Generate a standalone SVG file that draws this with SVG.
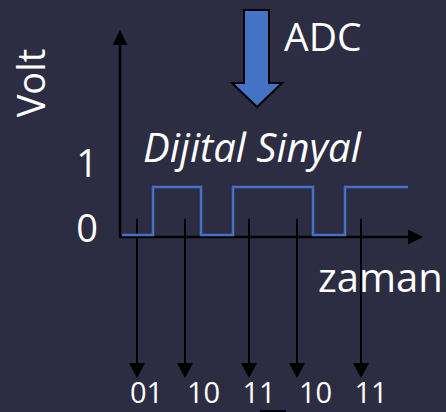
<svg xmlns="http://www.w3.org/2000/svg" width="446" height="412" viewBox="0 0 446 412">
<defs>
<style>
.t{font-family:"Open Sans","Noto Sans",sans-serif;fill:#ffffff;}
.ax{stroke:#000;stroke-width:2.5;fill:none;}
.tk{stroke:#000;stroke-width:2;fill:none;}
.sig{stroke:#4472c4;stroke-width:2.5;fill:none;}
</style>
<marker id="ah" viewBox="0 0 16 15" refX="0" refY="7.5" markerWidth="16" markerHeight="15" markerUnits="userSpaceOnUse" orient="auto">
<path d="M0,0 L15,7.5 L0,15 Z" fill="#000"/>
</marker>
<marker id="ahs" viewBox="0 0 15 16" refX="0" refY="8" markerWidth="15" markerHeight="16" markerUnits="userSpaceOnUse" orient="auto">
<path d="M0,0 L15,8 L0,16 Z" fill="#000"/>
</marker>
</defs>
<rect width="446" height="412" fill="#2c2d42"/>
<g id="axes">
<path class="ax" d="M120,237 L120,45" marker-end="url(#ah)"/>
<path class="ax" d="M119,237 L408,237" marker-end="url(#ah)"/>
</g>
<g id="connectors">
<path class="tk" d="M137,219 L137,363" marker-end="url(#ahs)"/>
<path class="tk" d="M185,219 L185,363" marker-end="url(#ahs)"/>
<path class="tk" d="M249,219 L249,363" marker-end="url(#ahs)"/>
<path class="tk" d="M297,219 L297,363" marker-end="url(#ahs)"/>
<path class="tk" d="M361,219 L361,363" marker-end="url(#ahs)"/>
</g>
<g id="signal">
<path class="sig" d="M122,235 L153,235 L153,187 L201,187 L201,235 L233,235 L233,187 L313,187 L313,235 L345,235 L345,187 L408,187"/>
</g>
<g id="adc-arrow">
<path d="M244,10 L269,10 L269,83 L282,83 L257,107 L232,83 L244,83 Z" fill="#4472c4" stroke="#000" stroke-width="2"/>
</g>
<g id="labels">
<text class="t" x="284" y="51" font-size="39">ADC</text>
<text class="t" x="143" y="162" font-size="40" font-style="italic">Dijital Sinyal</text>
<text class="t" x="318" y="292" font-size="40">zaman</text>
<text class="t" transform="translate(45,83) rotate(-90)" text-anchor="middle" font-size="38">Volt</text>
<text class="t" x="87" y="177" text-anchor="middle" font-size="38">1</text>
<text class="t" x="87" y="242" text-anchor="middle" font-size="38">0</text>
<text class="t" x="146.5" y="403" text-anchor="middle" font-size="29">01</text>
<text class="t" x="203.5" y="403" text-anchor="middle" font-size="29">10</text>
<text class="t" x="259" y="403" text-anchor="middle" font-size="29">11</text>
<text class="t" x="315.5" y="403" text-anchor="middle" font-size="29">10</text>
<text class="t" x="371" y="403" text-anchor="middle" font-size="29">11</text>
</g>
<rect x="260" y="410" width="26" height="2" fill="#000"/>
</svg>
